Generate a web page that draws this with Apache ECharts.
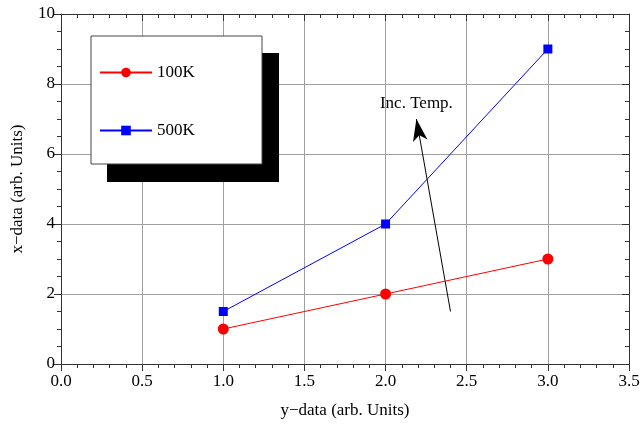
<!DOCTYPE html>
<html><head><meta charset="utf-8">
<script src="https://cdn.jsdelivr.net/npm/echarts@6/dist/echarts.min.js"></script>
<style>html,body{margin:0;padding:0;background:#fff}#c{width:641px;height:424px}</style>
</head><body><div id="c"></div>
<script>
const xValues = [1, 2, 3];
const series100K = [1, 2, 3];
const series500K = [1.5, 4, 9];
const seriesNames = ['100K', '500K'];
const arrowStart = [2.4, 1.5];
const arrowEnd = [2.19, 7.0];
const arrowLabel = 'Inc. Temp.';
const labelPos = [2.19, 7.45];

const FONT = 'Liberation Serif';
const chart = echarts.init(document.getElementById('c'), null, {renderer: 'canvas'});
const G = {left: 61, top: 14, right: 12, bottom: 60, containLabel: false, outerBoundsMode: 'none'};
// note: in this build, bottom/left axes render ticks inward with inside:false
const tickAxis = (inside, extra) => Object.assign({
  type: 'value',
  axisLine: {show: true, onZero: false, lineStyle: {color: '#333', width: 1}},
  axisTick: {show: true, inside: inside, length: 7, lineStyle: {color: '#333'}},
  splitLine: {show: false},
  axisLabel: {show: false}
}, extra);
const minorAxis = (inside, extra) => Object.assign({
  type: 'value',
  axisLine: {show: false, onZero: false},
  axisTick: {show: true, inside: inside, length: 4, lineStyle: {color: '#333'}},
  splitLine: {show: false},
  axisLabel: {show: false}
}, extra);
chart.setOption({
  animation: false,
  backgroundColor: '#fff',
  grid: [G, Object.assign({}, G)],
  xAxis: [
    tickAxis(false, {
      gridIndex: 0, min: 0, max: 3.5, interval: 0.5, position: 'bottom',
      splitLine: {show: true, lineStyle: {color: '#a0a0a0', width: 1}},
      axisLabel: {show: true, fontFamily: FONT, fontSize: 17, color: '#000', margin: 9, formatter: v => v.toFixed(1)},
      name: 'y\u2212data (arb. Units)', nameLocation: 'middle', nameGap: 38,
      nameTextStyle: {fontFamily: FONT, fontSize: 17, color: '#000'}
    }),
    tickAxis(true, {gridIndex: 0, min: 0, max: 3.5, interval: 0.5, position: 'top'}),
    minorAxis(false, {gridIndex: 1, min: 0, max: 3.5, interval: 0.1, position: 'bottom'}),
    minorAxis(true, {gridIndex: 1, min: 0, max: 3.5, interval: 0.1, position: 'top'})
  ],
  yAxis: [
    tickAxis(false, {
      gridIndex: 0, min: 0, max: 10, interval: 2, position: 'left',
      splitLine: {show: true, lineStyle: {color: '#a0a0a0', width: 1}},
      axisLabel: {show: true, fontFamily: FONT, fontSize: 17, color: '#000', margin: 6},
      name: 'x\u2212data (arb. Units)', nameLocation: 'middle', nameGap: 35,
      nameTextStyle: {fontFamily: FONT, fontSize: 17, color: '#000'}
    }),
    tickAxis(true, {gridIndex: 0, min: 0, max: 10, interval: 2, position: 'right'}),
    minorAxis(false, {gridIndex: 1, min: 0, max: 10, interval: 0.5, position: 'left'}),
    minorAxis(true, {gridIndex: 1, min: 0, max: 10, interval: 0.5, position: 'right'})
  ],
  graphic: [
    {type: 'rect', shape: {x: 107, y: 53, width: 172, height: 129}, style: {fill: '#000'}, z: 10},
    {type: 'rect', shape: {x: 91, y: 36, width: 171, height: 128}, style: {fill: '#fff', stroke: '#444', lineWidth: 1}, z: 11}
  ],
  legend: {
    orient: 'vertical', left: 99, top: 64, padding: 0, itemGap: 41, itemWidth: 52, itemHeight: 12, z: 20,
    textStyle: {fontFamily: FONT, fontSize: 17, color: '#000'},
    data: seriesNames
  },
  series: [{
    name: seriesNames[0], type: 'line', xAxisIndex: 0, yAxisIndex: 0,
    data: xValues.map((x, i) => [x, series100K[i]]),
    color: '#ff0000', lineStyle: {width: 1}, symbol: 'circle', symbolSize: 11,
    itemStyle: {color: '#ff0000'}, z: 5,
    markLine: {
      silent: true, symbol: ['none', 'arrow'], symbolSize: [11, 22],
      lineStyle: {color: '#000', width: 1, type: 'solid'}, label: {show: false},
      data: [[{coord: arrowStart}, {coord: arrowEnd}]]
    },
    markPoint: {
      symbol: 'circle', symbolSize: 0,
      label: {show: true, formatter: arrowLabel, fontFamily: FONT, fontSize: 17, color: '#000', position: 'inside'},
      data: [{coord: labelPos}]
    }
  }, {
    name: seriesNames[1], type: 'line', xAxisIndex: 0, yAxisIndex: 0,
    data: xValues.map((x, i) => [x, series500K[i]]),
    color: '#0000ff', lineStyle: {width: 1}, symbol: 'rect', symbolSize: 9,
    itemStyle: {color: '#0000ff'}, z: 5
  }]
});
</script></body></html>
